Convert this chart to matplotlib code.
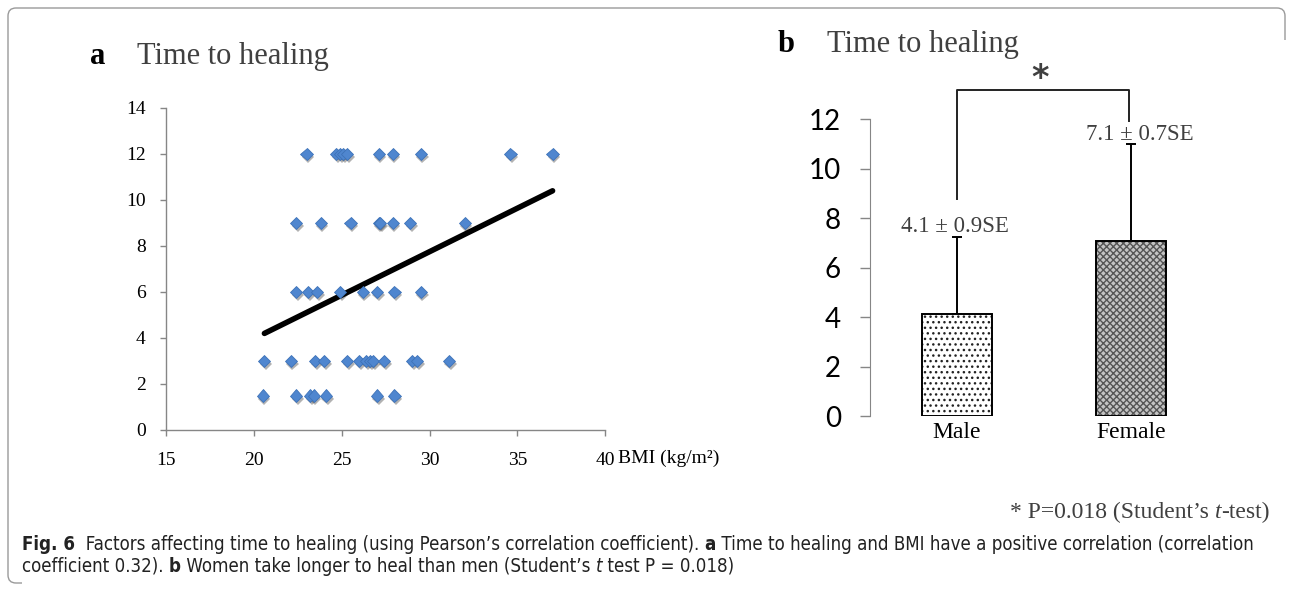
import matplotlib
matplotlib.use("Agg")
import matplotlib.pyplot as plt
import matplotlib.patheffects as pe
from matplotlib.path import Path
from matplotlib.patches import PathPatch
import numpy as np

# ---------------- data ----------------
# panel a: BMI vs time to healing (months)
bmi = [23.0, 24.7, 24.9, 25.1, 25.3, 27.1, 27.9, 29.5, 34.6, 37.0,
       22.4, 23.8, 25.5, 27.1, 27.2, 27.9, 28.9, 32.0,
       22.4, 23.1, 23.6, 24.9, 26.2, 27.0, 28.0, 29.5,
       20.6, 22.1, 23.5, 24.0, 25.3, 26.0, 26.4, 26.6, 26.8, 27.4, 29.0, 29.3, 31.1,
       20.5, 22.4, 23.2, 23.4, 24.1, 27.0, 28.0]
heal = [12] * 10 + [9] * 8 + [6] * 8 + [3] * 13 + [1.5] * 7
trend_x = [20.6, 37.0]
trend_y = [4.2, 10.4]
x_ticks_a = [15, 20, 25, 30, 35, 40]
y_ticks_a = [0, 2, 4, 6, 8, 10, 12, 14]

# panel b: mean time to healing by sex
sexes = ["Male", "Female"]
means = [4.15, 7.1]
err_up = [3.1, 3.9]
mean_labels = ["4.1 ± 0.9SE", "7.1 ± 0.7SE"]
y_ticks_b = [0, 2, 4, 6, 8, 10, 12]
bracket_y = [8.8, 13.2, 13.2, 11.95]

W, H = 1293, 589
fig = plt.figure(figsize=(W / 100, H / 100), dpi=100)
fig.patch.set_facecolor("white")

def fx(x):
    return x / W

def fy(y):
    return 1 - y / H

SERIF = "Liberation Serif"
GRAY = "#868686"
DARK = "#404040"

# ---------------- panel a ----------------
axa = fig.add_axes([fx(166), fy(430), (605.3 - 166) / W, 322 / H])
axa.plot(trend_x, trend_y, color="black", lw=4.0, solid_capstyle="round", zorder=2)
axa.plot(bmi, heal, "D", ms=6.2, mfc="#4f86cf", mec="#3d72b8", mew=0.6, zorder=3,
         path_effects=[pe.SimplePatchShadow(offset=(1.2, -2.2), shadow_rgbFace="k", alpha=0.3),
                       pe.Normal()])
axa.set_xlim(15, 40)
axa.set_ylim(0, 14)
axa.set_xticks(x_ticks_a)
axa.set_yticks(y_ticks_a)
for s in ["top", "right"]:
    axa.spines[s].set_visible(False)
for s in ["left", "bottom"]:
    axa.spines[s].set_color(GRAY)
    axa.spines[s].set_linewidth(1.0)
axa.tick_params(axis="both", colors=GRAY, length=4.5, width=1.0, labelcolor="black",
                labelsize=14)
axa.tick_params(axis="y", pad=10)
axa.tick_params(axis="x", pad=11)
for lab in axa.get_xticklabels() + axa.get_yticklabels():
    lab.set_family(SERIF)
fig.text(fx(618), fy(458), "BMI (kg/m²)", family=SERIF, fontsize=14, ha="left", va="center")

fig.text(fx(90), fy(64), "a", family=SERIF, fontsize=22, weight="bold", ha="left", va="baseline")
fig.text(fx(137), fy(64), "Time to healing", family=SERIF, fontsize=22, color=DARK,
         ha="left", va="baseline")

# ---------------- panel b ----------------
bot = fy(416.3)
axb = fig.add_axes([fx(870), bot, 348 / W, 14 * 24.75 / H])
xpos = np.arange(len(sexes))
bw = 70 / 174
# Male: dotted fill
axb.bar(xpos[0], means[0], width=bw, color="white", edgecolor="#222222", hatch="...",
        linewidth=0, zorder=2)
# Female: dense cross-hatch
axb.bar(xpos[1], means[1], width=bw, color="#c4c4c4", edgecolor="#555555", hatch="xxxxx",
        linewidth=0, zorder=2)
axb.bar(xpos, means, width=bw, color="none", edgecolor="black", linewidth=1.4, zorder=3)
axb.errorbar(xpos, means, yerr=[[0, 0], err_up], fmt="none", ecolor="black",
             elinewidth=1.4, capsize=3.5, capthick=1.4, zorder=1)
axb.set_xlim(-0.5, 1.5)
axb.set_ylim(0, 14)
axb.set_yticks(y_ticks_b)
axb.set_xticks(xpos)
axb.set_xticklabels(sexes, family=SERIF, fontsize=17)
axb.tick_params(axis="x", length=0, pad=4)
axb.tick_params(axis="y", colors=GRAY, length=7, width=1.0, labelcolor="black",
                labelsize=20, pad=14)
for lab in axb.get_yticklabels():
    lab.set_family("Lato")
for s in ["top", "right", "bottom"]:
    axb.spines[s].set_visible(False)
axb.spines["left"].set_color(GRAY)
axb.spines["left"].set_bounds(0, 12)
axb.patch.set_alpha(0)

# significance bracket
axb.plot([xpos[0], xpos[0], xpos[1] - 0.01, xpos[1] - 0.01], bracket_y, color="#222222",
         lw=1.4, clip_on=False, zorder=4)
axb.text((xpos[0] + xpos[1]) / 2 - 0.02, 13.2 + 0.45, "*", family="DejaVu Sans", fontsize=24,
         color=DARK, ha="center", va="center", weight="bold", clip_on=False)
# mean labels
axb.text(xpos[0] - 0.01, means[0] + err_up[0] + 0.2, mean_labels[0], family=SERIF,
         fontsize=16.5, color=DARK, ha="center", va="baseline")
axb.text(xpos[1] + 0.05, means[1] + err_up[1] + 0.17, mean_labels[1], family=SERIF,
         fontsize=16.5, color=DARK, ha="center", va="baseline")

fig.text(fx(778), fy(52), "b", family=SERIF, fontsize=22, weight="bold", ha="left", va="baseline")
fig.text(fx(827), fy(52), "Time to healing", family=SERIF, fontsize=22, color=DARK,
         ha="left", va="baseline")

# ---------------- rich text helper ----------------
renderer = fig.canvas.get_renderer()

def rich(x, y, segs, size, family, color, stretch="normal"):
    cx = x
    for s, w, st in segs:
        t = fig.text(fx(cx), fy(y), s, fontsize=size, family=family, weight=w, style=st,
                     color=color, ha="left", va="baseline", fontstretch=stretch)
        cx += t.get_window_extent(renderer).width
    return cx - x

def rich_width(segs, size, family, stretch="normal"):
    tot = 0
    for s, w, st in segs:
        t = fig.text(0, 0, s, fontsize=size, family=family, weight=w, style=st,
                     fontstretch=stretch)
        tot += t.get_window_extent(renderer).width
        t.remove()
    return tot

rich(1010, 518, [("* P=0.018 (Student’s ", "normal", "normal"), ("t", "normal", "italic"),
                 ("-test)", "normal", "normal")], 17, SERIF, DARK)

CAP = ["DejaVu Sans"]
line1 = [("Fig. 6", "bold", "normal"),
         ("  Factors affecting time to healing (using Pearson’s correlation coefficient). ", "normal", "normal"),
         ("a", "bold", "normal"),
         (" Time to healing and BMI have a positive correlation (correlation", "normal", "normal")]
line2 = [("coefficient 0.32). ", "normal", "normal"), ("b", "bold", "normal"),
         (" Women take longer to heal than men (Student’s ", "normal", "normal"),
         ("t", "normal", "italic"), (" test P = 0.018)", "normal", "normal")]
w12 = rich_width(line1, 12, CAP, "condensed")
cap_size = min(12 * 1238 / w12, 13.5)
rich(22, 550, line1, cap_size, CAP, "#222222", "condensed")
rich(22, 572, line2, cap_size, CAP, "#222222", "condensed")

# ---------------- frame ----------------
r = 8
verts = [(1285, 40), (1285, 8 + r), (1285, 8), (1285 - r, 8), (8 + r, 8), (8, 8), (8, 8 + r),
         (8, 583 - r), (8, 583), (8 + r, 583), (22, 583)]
codes = [Path.MOVETO, Path.LINETO, Path.CURVE3, Path.CURVE3, Path.LINETO, Path.CURVE3,
         Path.CURVE3, Path.LINETO, Path.CURVE3, Path.CURVE3, Path.LINETO]
verts_fig = [(fx(a), fy(b)) for a, b in verts]
fig.add_artist(PathPatch(Path(verts_fig, codes), transform=fig.transFigure, fill=False,
                         edgecolor="#9a9a9a", lw=1.0))

fig.savefig("out.png", dpi=100)
